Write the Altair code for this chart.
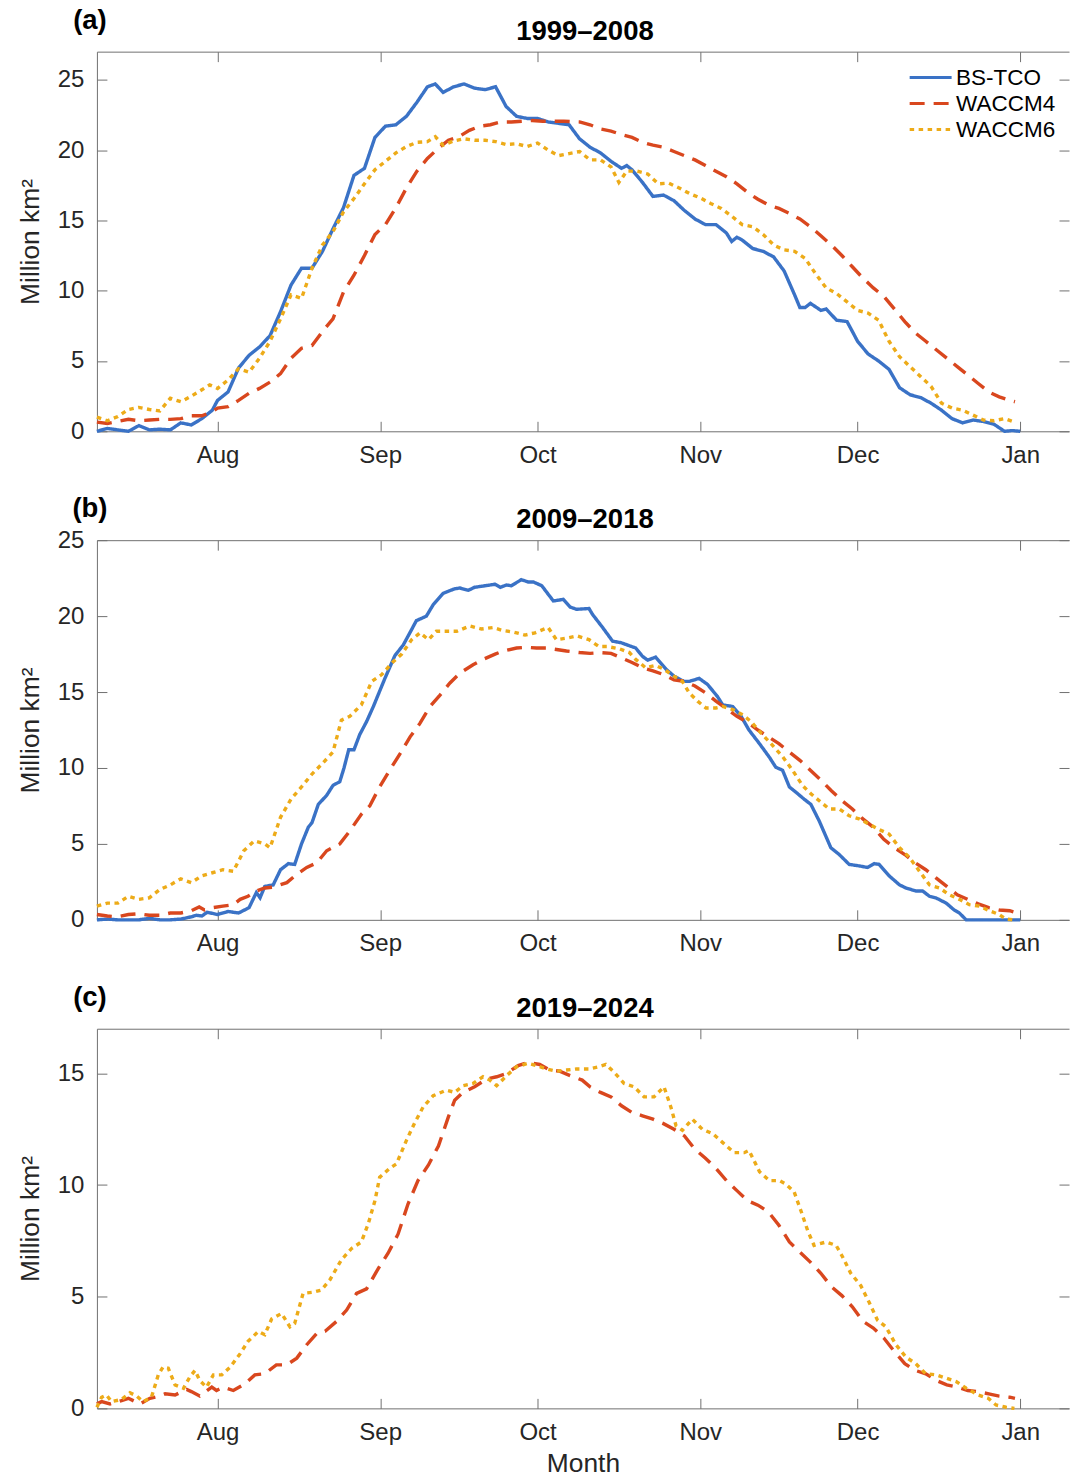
import altair as alt
import pandas as pd

# ---------------- data (day index: Jul 1 = 1, Aug 1 = 31, ..., Jan 1 = 184) -------------
MONTH_DAYS = [31, 62, 92, 123, 153, 184]
MONTH_NAMES = ["Aug", "Sep", "Oct", "Nov", "Dec", "Jan"]
SERIES = ["BS-TCO", "WACCM4", "WACCM6"]
COLORS = ["#3A72C6", "#D9471E", "#EDAB18"]
DASHES = [[1, 0], [15, 9], [4.5, 4.5]]

PANEL_TITLES = ["1999–2008", "2009–2018", "2019–2024"]
PANEL_LETTERS = ["(a)", "(b)", "(c)"]
Y_MAX = [27, 25, 17]
Y_TICKS = [[0, 5, 10, 15, 20, 25], [0, 5, 10, 15, 20, 25], [0, 5, 10, 15]]

A_BS = [(8,0.0),(10,0.2),(12,0.1),(14,0.0),(16,0.4),(18,0.1),(20,0.15),(22,0.1),(24,0.6),(26,0.45),
        (28,0.9),(30,1.5),(31,2.2),(33,2.8),(35,4.5),(37,5.4),(39,6.0),(41,6.8),(43,8.5),(45,10.4),
        (47,11.6),(49,11.6),(51,12.8),(53,14.4),(55,15.9),(57,18.2),(59,18.7),(61,20.9),(63,21.7),
        (65,21.8),(67,22.4),(69,23.4),(71,24.5),(72.5,24.7),(74,24.1),(76,24.5),(78,24.7),(80,24.4),
        (82,24.3),(84,24.5),(86,23.1),(88,22.4),(90,22.25),(92,22.25),(94,22.0),(96,21.9),(98,21.8),
        (100,20.8),(102,20.2),(104,19.8),(106,19.2),(108,18.7),(109,18.9),(110,18.6),(112,17.7),
        (113,17.2),(114,16.7),(116,16.8),(118,16.4),(120,15.7),(122,15.1),(124,14.7),(126,14.7),
        (128,14.1),(129,13.5),(130,13.8),(131,13.6),(133,13.0),(135,12.8),(137,12.4),(139,11.4),
        (141,9.7),(142,8.8),(143,8.8),(144,9.1),(146,8.6),(147,8.7),(149,7.9),(151,7.8),(153,6.4),
        (155,5.5),(157,5.0),(159,4.4),(161,3.1),(163,2.6),(165,2.4),(167,2.0),(169,1.5),(171,0.9),
        (173,0.6),(175,0.8),(177,0.7),(179,0.5),(181,0.0),(182.5,0.05),(184,0.0)]

A_W4 = [(8,0.65),(10,0.55),(12,0.7),(14,0.85),(16,0.75),(18,0.8),(20,0.85),(22,0.85),(24,0.9),(26,1.1),
        (28,1.1),(30,1.4),(31,1.65),(33,1.75),(35,2.2),(37,2.7),(39,3.05),(41,3.5),(43,4.1),(45,5.2),
        (47,5.9),(49,6.1),(51,7.1),(53,8.0),(55,9.9),(57,11.1),(59,12.5),(61,14.0),(63,14.7),(65,15.9),
        (67,17.3),(69,18.5),(71,19.4),(73,20.1),(75,20.7),(77,20.95),(79,21.4),(81,21.7),(83,21.8),
        (85,22.0),(87,22.0),(89,22.05),(91,22.1),(93,22.05),(95,22.05),(97,22.05),(100,22.0),(102,21.8),
        (104,21.5),(106,21.35),(108,21.1),(110,20.9),(112,20.55),(114,20.35),(116,20.2),(118,19.9),
        (120,19.6),(122,19.3),(124,18.9),(126,18.5),(128,18.1),(130,17.6),(132,17.0),(134,16.5),
        (136,16.1),(138,15.85),(140,15.5),(142,15.1),(144,14.55),(146,13.9),(148,13.25),(150,12.5),
        (152,11.7),(154,10.9),(156,10.2),(158,9.6),(160,8.7),(162,7.8),(164,7.0),(166,6.4),(168,5.8),
        (170,5.2),(172,4.6),(174,4.0),(176,3.4),(178,2.8),(180,2.45),(182,2.2),(183,2.1)]

A_W6 = [(8,1.0),(10,0.75),(12,1.05),(14,1.55),(16,1.7),(18,1.55),(20,1.45),(22,2.35),(24,2.1),(26,2.5),
        (28,2.95),(29.5,3.3),(31,3.05),(33,3.65),(35,4.45),(37,4.2),(39,5.2),(41,6.4),(43,8.0),(45,9.7),
        (47,9.45),(49,11.6),(51,13.25),(53,14.2),(55,15.6),(57,16.55),(59,17.6),(61,18.6),(63,19.2),
        (65,19.8),(67,20.25),(69,20.55),(71,20.6),(72.5,20.95),(74,20.35),(76,20.65),(78,20.8),(80,20.7),
        (82,20.7),(84,20.6),(86,20.4),(88,20.45),(90,20.25),(92,20.5),(94,20.0),(96,19.6),(98,19.75),
        (100,19.9),(102,19.3),(104,19.3),(106,18.8),(107.5,17.7),(109,18.5),(111,18.5),(113,18.3),
        (115,17.6),(117,17.65),(119,17.3),(121,16.9),(123,16.6),(125,16.2),(127,15.85),(129,15.3),
        (131,14.7),(133,14.55),(135,14.0),(137,13.25),(139,12.9),(141,12.8),(143,12.3),(145,11.2),
        (147,10.2),(149,9.8),(151,9.2),(153,8.6),(155,8.4),(157,7.9),(159,6.4),(161,5.3),(163,4.6),
        (165,3.9),(167,3.2),(169,2.0),(171,1.65),(173,1.5),(175,1.15),(177,0.8),(179,0.75),(181,0.9),
        (183,0.65)]

B_BS = [(8,0.0),(10,0.05),(12,0.0),(14,0.0),(16,0.0),(18,0.1),(20,0.0),(22,0.0),(24,0.05),(26,0.2),
        (27,0.3),(28,0.25),(29,0.5),(31,0.35),(33,0.55),(35,0.45),(37,0.8),(38.4,1.8),(39.1,1.45),
        (40,2.2),(41.6,2.3),(43,3.3),(44.5,3.7),(45.7,3.65),(47,5.0),(48.3,6.1),(49,6.4),(50.2,7.6),
        (51.8,8.2),(53,8.85),(54.3,9.1),(55.1,10.0),(56,11.2),(57,11.2),(58.1,12.2),(59.4,13.05),
        (60.7,14.05),(62.9,15.9),(64.8,17.4),(66.4,18.1),(68.9,19.7),(70.8,20.0),(72.1,20.75),
        (74,21.5),(76.2,21.8),(77.2,21.85),(78.8,21.7),(80,21.9),(82,22.0),(83.9,22.1),(84.9,21.9),
        (86.1,22.05),(87,22.0),(88.9,22.4),(90.2,22.25),(91.2,22.25),(92.8,22.0),(95,21.0),
        (96.9,21.1),(98.2,20.6),(99.4,20.45),(101.8,20.5),(102.5,20.1),(104.4,19.25),(106.3,18.35),
        (107.9,18.25),(110.7,17.9),(112,17.35),(113,17.1),(114.5,17.3),(116.5,16.5),(118,16.05),
        (119.9,15.7),(120.9,15.7),(122.8,15.9),(124.4,15.5),(126.3,14.7),(127.3,14.15),(129.2,14.05),
        (130.8,13.4),(132.3,12.5),(134.3,11.6),(136.2,10.7),(137.4,10.05),(138.7,9.85),(140,8.75),
        (141.6,8.3),(142.8,7.95),(144.1,7.6),(145.7,6.5),(147.9,4.75),(149.5,4.3),(151.4,3.65),
        (153.3,3.55),(154.9,3.45),(156.2,3.7),(157.1,3.65),(159,2.9),(161,2.3),(162.2,2.1),
        (164.1,1.9),(165.4,1.9),(166.7,1.55),(167.9,1.45),(169.9,1.1),(171.4,0.65),(172.4,0.45),
        (173.7,0.0),(176.2,0.0),(180,0.0),(184,0.0)]

B_W4 = [(8,0.35),(10,0.25),(12,0.2),(14,0.35),(16,0.4),(18,0.3),(20,0.3),(22,0.45),(24,0.45),(26,0.6),
        (27.5,0.85),(28.5,0.65),(30,0.8),(32,0.9),(34,1.0),(35.3,1.35),(36.8,1.55),(38.4,1.9),(40,2.1),
        (41.6,2.15),(44.2,2.45),(46.1,3.0),(48,3.45),(49.9,3.75),(51.8,4.55),(54.3,5.0),(56.2,5.85),
        (58.4,6.95),(60,7.5),(61.9,8.75),(63.8,9.85),(65.8,10.95),(67.7,12.05),(69.6,12.95),(71.5,14.05),
        (73.4,14.8),(75.3,15.6),(77.2,16.25),(79.7,16.8),(81.6,17.15),(83.9,17.5),(85.4,17.7),(88,17.9),
        (89.9,17.95),(91.8,17.9),(93.7,17.9),(95.6,17.8),(97.5,17.7),(100,17.6),(102,17.55),(104,17.6),
        (106,17.55),(108,17.25),(110,16.95),(112,16.6),(114,16.4),(116,16.15),(118,15.8),(120,15.7),
        (122,15.4),(124,14.95),(126,14.4),(128,13.9),(130,13.4),(132,13.0),(134,12.5),(136,12.05),
        (138,11.6),(140,11.05),(142,10.5),(144,9.85),(146,9.2),(148,8.5),(150,7.85),(152,7.3),
        (154,6.65),(156,6.1),(158,5.3),(160,4.75),(162,4.3),(164,3.75),(166,3.3),(168,2.75),(170,2.2),
        (172,1.65),(174,1.35),(176,1.05),(178,0.8),(180,0.65),(182,0.6),(183,0.5)]

B_W6 = [(8,0.9),(10,1.1),(12,1.1),(14,1.55),(16,1.35),(18,1.45),(20,2.0),(22,2.3),(24,2.7),(26,2.45),
        (28,2.9),(30,3.1),(32,3.3),(34,3.2),(36,4.55),(38,5.2),(40,5.0),(41,4.75),(43,6.75),(45,7.95),
        (47,8.75),(49,9.6),(51,10.3),(53,11.05),(54.6,13.15),(56.2,13.4),(58.4,14.15),(60.4,15.7),
        (62.3,16.15),(64.2,16.9),(66.1,17.5),(68,18.45),(69.6,18.9),(71.2,18.45),(72.7,19.0),(74.6,19.0),
        (76.6,19.0),(79.1,19.35),(81.3,19.15),(83.5,19.25),(85.4,19.05),(87.4,18.95),(89.6,18.75),
        (91.5,18.9),(94,19.25),(95.6,18.45),(97.5,18.55),(99.5,18.7),(101.8,18.45),(103.7,18.0),
        (105.3,18.0),(107.6,17.85),(109.5,17.6),(110.7,17.15),(112.6,16.6),(114.5,16.75),(116.1,16.5),
        (118,16.05),(119.6,15.7),(120.9,14.95),(122.5,14.4),(124.1,13.95),(126,13.95),(127.3,14.05),
        (129.2,13.85),(131.1,13.5),(132.7,13.05),(134.6,12.3),(136.5,11.6),(138.7,10.75),(140.6,9.85),
        (142.5,8.85),(144.1,8.3),(146,7.75),(147.6,7.3),(149.5,7.3),(151.4,6.85),(153.3,6.65),
        (155.2,6.3),(157.1,5.95),(159,5.65),(161,4.75),(162.9,4.1),(164.8,3.2),(166.7,2.3),(168.6,2.1),
        (170.5,1.65),(172.4,1.35),(174.3,1.0),(176.2,0.9),(178.1,0.6),(180,0.35),(181.3,0.05),(182.6,0.0)]

C_W4 = [(8,0.2),(8.9,0.3),(10.5,0.2),(12.7,0.35),(14,0.45),(16.2,0.2),(18.1,0.45),(20,0.55),(21,0.65),
        (22.9,0.6),(25.1,0.85),(26,0.75),(27.6,0.55),(29.9,0.95),(30.8,0.8),(32.1,0.95),(34,0.8),
        (36.2,1.1),(38.1,1.5),(40,1.55),(42.2,1.95),(44.2,1.95),(46.1,2.25),(48,2.85),(49.9,3.35),
        (51.5,3.45),(53.7,3.9),(55.6,4.4),(57.5,5.15),(59.4,5.35),(61.6,6.25),(63.5,6.95),(65.4,7.8),
        (67.3,9.15),(69.2,10.2),(71.2,10.9),(73.1,11.75),(75,13.05),(76.2,13.8),(77.8,14.15),(80,14.4),
        (82.3,14.75),(84.2,14.85),(86.1,15.0),(88.3,15.35),(90.2,15.5),(92.4,15.4),(94.3,15.15),
        (96.2,15.1),(98.2,14.9),(100.5,14.7),(102,14.4),(104,14.15),(106,13.95),(108,13.55),(110,13.25),
        (112,13.1),(114,12.95),(116,12.75),(118,12.5),(120,12.2),(122,11.6),(124,11.2),(126,10.75),
        (128,10.2),(130,9.75),(132,9.3),(134,9.1),(136,8.8),(138,8.2),(140,7.45),(142,7.0),(144,6.55),
        (146,6.05),(148,5.45),(150,5.05),(152,4.55),(154,3.9),(156,3.6),(158,3.15),(160,2.55),(162,2.0),
        (164,1.7),(166,1.55),(168,1.25),(170,1.05),(172,0.95),(174,0.8),(176,0.75),(178,0.65),(180,0.55),
        (182,0.5),(183,0.45)]

C_W6 = [(8,0.05),(8.9,0.5),(9.8,0.6),(10.8,0.3),(12.7,0.4),(14.3,0.7),(15.6,0.55),(16.8,0.3),(18.4,0.5),
        (19.7,1.5),(20.6,1.85),(21.6,1.8),(22.9,1.05),(24.5,0.9),(25.7,1.4),(26.7,1.7),(27.6,1.25),
        (28.9,0.95),(30.2,1.5),(31.8,1.5),(33.4,1.85),(35.3,2.45),(36.8,3.0),(38.8,3.45),(40,3.3),
        (41.3,4.0),(43.2,4.25),(44.8,3.65),(45.7,3.8),(47.3,5.15),(49.2,5.2),(50.8,5.3),(52.4,5.75),
        (54.6,6.65),(56.5,7.15),(58.4,7.45),(59.7,8.25),(61,9.3),(61.9,10.35),(63.8,10.75),(65.1,10.95),
        (67,12.0),(68.6,12.8),(70.2,13.5),(72.1,14.0),(74.6,14.25),(76.2,14.15),(77.8,14.45),(79.7,14.55),
        (81.6,14.85),(82.9,14.7),(84.2,14.45),(86.1,14.9),(88,15.3),(90.2,15.45),(91.8,15.35),(93.7,15.2),
        (95.6,15.1),(97.5,15.15),(99.4,15.2),(101.8,15.2),(103.7,15.3),(105,15.4),(106.6,15.05),
        (108.5,14.55),(110.4,14.4),(112.3,13.95),(114.2,13.95),(116.1,14.4),(117.4,13.5),(118.4,12.65),
        (119.6,12.45),(121.5,12.95),(123.4,12.5),(125.4,12.3),(127.3,11.9),(129.5,11.45),(131.4,11.45),
        (132.3,11.55),(134.3,10.6),(136.2,10.2),(138.1,10.2),(139.3,10.05),(140.9,9.7),(142.2,8.85),
        (143.5,7.95),(144.7,7.3),(147,7.45),(148.9,7.3),(150.1,6.8),(151.7,6.05),(153.6,5.5),(155.2,4.75),
        (156.8,3.95),(158.4,3.65),(160.3,2.85),(162.2,2.3),(164.1,2.0),(166,1.55),(168,1.5),(169.9,1.35),
        (171.8,1.2),(173.7,0.9),(176,0.6),(177.9,0.45),(179.4,0.15),(181.3,0.05),(182.9,0.0)]

PANELS = [
    {"BS-TCO": A_BS, "WACCM4": A_W4, "WACCM6": A_W6},
    {"BS-TCO": B_BS, "WACCM4": B_W4, "WACCM6": B_W6},
    {"WACCM4": C_W4, "WACCM6": C_W6},
]

# ---------------- layout constants ----------------
W = 973
H = 380
X_DOMAIN = [8, 193.3]
AX_COLOR = "#707070"
TXT_COLOR = "#262626"
FONT = "Liberation Sans"

label_expr = ""
for d, n in zip(MONTH_DAYS, MONTH_NAMES):
    label_expr += f"datum.value == {d} ? '{n}' : "
label_expr += "''"


def make_panel(i, show_legend, month_title):
    rows = []
    for s in SERIES:
        if s in PANELS[i]:
            for d, v in PANELS[i][s]:
                rows.append({"day": d, "value": v, "series": s})
    df = pd.DataFrame(rows)

    xs = alt.Scale(domain=X_DOMAIN, nice=False, zero=False)
    ys = alt.Scale(domain=[0, Y_MAX[i]], nice=False, zero=True)

    if show_legend:
        leg = alt.Legend(orient="none", legendX=812, legendY=13, title=None, padding=0,
                         rowPadding=0, clipHeight=26, labelOffset=3, symbolSize=1764,
                         symbolStrokeWidth=3, symbolType="stroke", labelFontSize=22.5,
                         labelColor="black", labelFont=FONT)
    else:
        leg = None

    x_main = alt.Axis(orient="bottom", values=MONTH_DAYS, labelExpr=label_expr, tickSize=0,
                      labelPadding=12, labelFlush=False, domain=True,
                      title="Month" if month_title else None, titlePadding=6)
    y_main = alt.Axis(orient="left", values=Y_TICKS[i], tickSize=0, labelPadding=13,
                      domain=True, title="Million km²", titlePadding=13)

    lines = alt.Chart(df).mark_line(strokeWidth=3.4).encode(
        x=alt.X("day:Q", scale=xs, axis=x_main),
        y=alt.Y("value:Q", scale=ys, axis=y_main),
        color=alt.Color("series:N", scale=alt.Scale(domain=SERIES, range=COLORS), legend=leg),
        strokeDash=alt.StrokeDash("series:N", scale=alt.Scale(domain=SERIES, range=DASHES), legend=leg),
    )

    ghost = alt.Chart(df).mark_point(opacity=0)
    ticks_in_1 = ghost.encode(
        x=alt.X("day:Q", scale=xs, axis=alt.Axis(orient="top", offset=-H, values=MONTH_DAYS,
                                                  labels=False, domain=False, tickSize=10, title=None)),
        y=alt.Y("value:Q", scale=ys, axis=alt.Axis(orient="right", offset=-W, values=Y_TICKS[i],
                                                    labels=False, domain=False, tickSize=10, title=None)),
    )
    ticks_in_2 = ghost.encode(
        x=alt.X("day:Q", scale=xs, axis=alt.Axis(orient="bottom", offset=-H, values=MONTH_DAYS,
                                                  labels=False, domain=True, tickSize=10, title=None)),
        y=alt.Y("value:Q", scale=ys, axis=alt.Axis(orient="left", offset=-W, values=Y_TICKS[i],
                                                    labels=False, domain=False, tickSize=10, title=None)),
    )

    letter = alt.Chart(pd.DataFrame({"t": [PANEL_LETTERS[i]]})).mark_text(
        fontSize=27.5, fontWeight="bold", align="center", baseline="middle", color="black", font=FONT
    ).encode(x=alt.value(-7), y=alt.value(-31), text="t:N")

    title = alt.Chart(pd.DataFrame({"t": [PANEL_TITLES[i]]})).mark_text(
        fontSize=27.5, fontWeight="bold", align="center", baseline="middle", color="black", font=FONT
    ).encode(x=alt.value(W / 2 + 2), y=alt.value(-20), text="t:N")

    return alt.layer(lines, ticks_in_1, ticks_in_2, letter, title).resolve_axis(
        x="independent", y="independent"
    ).properties(width=W, height=H)


chart = alt.vconcat(
    make_panel(0, True, False),
    make_panel(1, False, False),
    make_panel(2, False, True),
    spacing=109,
    bounds="flush",
).resolve_scale(
    color="independent", strokeDash="independent"
).configure(
    font=FONT,
    padding={"left": 16, "top": 5, "right": 0, "bottom": 1},
    background="white",
).configure_view(
    stroke="transparent"
).configure_axis(
    grid=False,
    labelFont=FONT,
    labelFontSize=24,
    labelColor=TXT_COLOR,
    titleFont=FONT,
    titleFontSize=26.4,
    titleFontWeight="normal",
    titleColor=TXT_COLOR,
    domainColor=AX_COLOR,
    tickColor=AX_COLOR,
    domainWidth=1,
    tickWidth=1,
)

chart.save("out.html", embed_options={"renderer": "svg", "actions": False})
